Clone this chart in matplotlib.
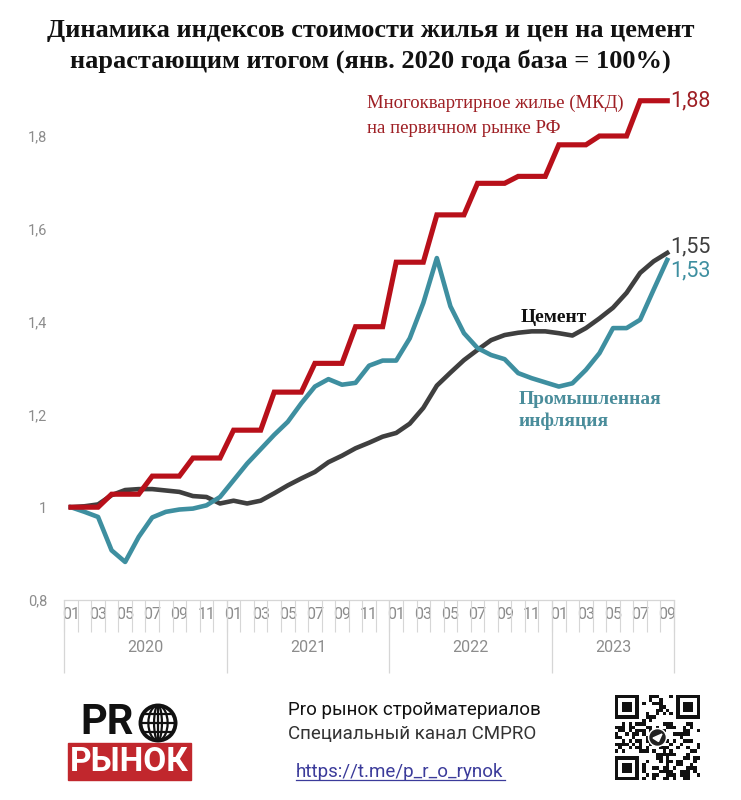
import numpy as np
import matplotlib
matplotlib.use("Agg")
import matplotlib.pyplot as plt
from matplotlib.patches import Rectangle, Circle, Ellipse, Polygon

# --- data (monthly, Jan 2020 .. Sep 2023, Jan 2020 = 1.0) ---
month_labels = ["01", "02", "03", "04", "05", "06", "07", "08", "09", "10", "11", "12"]
years = ["2020", "2021", "2022", "2023"]
n_months = 45

housing = [1.0, 1.0, 1.0, 1.028, 1.028, 1.028, 1.067, 1.067, 1.067, 1.106, 1.106, 1.106,
           1.166, 1.166, 1.166, 1.248, 1.248, 1.248, 1.31, 1.31, 1.31, 1.389, 1.389, 1.389,
           1.528, 1.528, 1.528, 1.63, 1.63, 1.63, 1.698, 1.698, 1.698, 1.713, 1.713, 1.713,
           1.781, 1.781, 1.781, 1.80, 1.80, 1.80, 1.876, 1.876, 1.876]
cement = [1.0, 1.002, 1.006, 1.026, 1.037, 1.039, 1.039, 1.036, 1.033, 1.024, 1.022, 1.008,
          1.014, 1.008, 1.014, 1.030, 1.047, 1.062, 1.076, 1.097, 1.111, 1.127, 1.139, 1.152,
          1.160, 1.180, 1.214, 1.262, 1.290, 1.317, 1.339, 1.360, 1.371, 1.376, 1.379, 1.379,
          1.375, 1.370, 1.386, 1.407, 1.430, 1.462, 1.505, 1.530, 1.548]
industrial = [1.0, 0.990, 0.979, 0.907, 0.882, 0.936, 0.978, 0.990, 0.995, 0.997, 1.004, 1.022,
              1.058, 1.094, 1.125, 1.156, 1.184, 1.224, 1.260, 1.276, 1.264, 1.268, 1.305, 1.316,
              1.316, 1.364, 1.440, 1.537, 1.433, 1.375, 1.343, 1.328, 1.319, 1.289, 1.278, 1.269,
              1.260, 1.267, 1.296, 1.332, 1.386, 1.386, 1.404, 1.469, 1.533]

yticks = [0.8, 1.0, 1.2, 1.4, 1.6, 1.8]
ytick_labels = ["0,8", "1", "1,2", "1,4", "1,6", "1,8"]

url = "https://t.me/p_r_o_rynok"

RED = "#b8101a"
RED_TXT = "#9e1f24"
GRAY = "#3f3f3f"
TEAL = "#3e8fa0"
TEAL_TXT = "#4a8d9b"
AXC = "#d6d6d6"
TICKC = "#8c8c8c"
NARROW = ["Roboto", "DejaVu Sans"]
SERIF = ["Liberation Serif", "DejaVu Serif"]

fig = plt.figure(figsize=(7.41, 8.0), dpi=100)
fig.patch.set_facecolor("white")

ax = fig.add_axes([0.0866, 0.25, 0.8230, 0.6496])
x = np.arange(n_months)
ax.plot(x, housing, color=RED, lw=3.7, solid_joinstyle="miter", zorder=3)
ax.plot(x, cement, color=GRAY, lw=3.3, zorder=2)
ax.plot(x, industrial, color=TEAL, lw=3.3, zorder=2.5)

ax.set_xlim(-0.5, n_months - 0.5)
ax.set_ylim(0.8, 1.92)

for s in ["top", "right", "left"]:
    ax.spines[s].set_visible(False)
ax.spines["bottom"].set_color(AXC)
ax.spines["bottom"].set_linewidth(0.9)

ax.set_yticks(yticks)
ax.set_yticklabels(ytick_labels, fontfamily=NARROW, fontsize=10.5, color=TICKC)
ax.tick_params(axis="y", length=0, pad=12)

major = [i for i in range(n_months) if i % 2 == 0]
ax.set_xticks(major)
ax.set_xticklabels([month_labels[i % 12] for i in major], fontfamily=NARROW,
                   fontsize=11.5, color=TICKC)
ax.set_xticks(np.arange(-0.5, n_months, 1.0), minor=True)
ax.tick_params(axis="x", which="major", length=0, pad=5)
ax.tick_params(axis="x", which="minor", length=23, width=0.8, color=AXC, direction="out")

# year groups
xt = ax.get_xaxis_transform()
bounds = [-0.5, 11.5, 23.5, 35.5, n_months - 0.5]
ax.vlines(bounds, -0.14, 0, transform=xt, color=AXC, lw=0.9, clip_on=False)
for k, yr in enumerate(years):
    ax.text((bounds[k] + bounds[k + 1]) / 2, -0.092, yr, transform=xt, ha="center",
            va="center", fontfamily=NARROW, fontsize=11.5, color=TICKC)

# series labels
ax.text(21.85, 1.871, "Многоквартирное жилье (МКД)", color=RED_TXT, fontfamily=SERIF,
        fontsize=13.5, ha="left", va="center")
ax.text(21.85, 1.817, "на первичном рынке РФ", color=RED_TXT, fontfamily=SERIF,
        fontsize=13.5, ha="left", va="center")
ax.text(35.6, 1.409, "Цемент", color="#111111", fontfamily=SERIF, fontsize=14,
        fontweight="bold", ha="center", va="center")
ax.text(33.05, 1.233, "Промышленная", color=TEAL_TXT, fontfamily=SERIF, fontsize=14,
        fontweight="bold", ha="left", va="center")
ax.text(33.05, 1.185, "инфляция", color=TEAL_TXT, fontfamily=SERIF, fontsize=14,
        fontweight="bold", ha="left", va="center")

ax.text(n_months - 0.8, housing[-1], "1,88", color=RED_TXT, fontfamily=NARROW,
        fontsize=15.5, ha="left", va="center", clip_on=False)
ax.text(n_months - 0.8, cement[-1] + 0.012, "1,55", color=GRAY, fontfamily=NARROW,
        fontsize=15.5, ha="left", va="center", clip_on=False)
ax.text(n_months - 0.8, industrial[-1] - 0.024, "1,53", color=TEAL, fontfamily=NARROW,
        fontsize=15.5, ha="left", va="center", clip_on=False)

# title
fig.text(0.5, 0.9425, "Динамика индексов стоимости жилья и цен на цемент\n"
         "нарастающим итогом (янв. 2020 года база = 100%)",
         ha="center", va="center", fontfamily=SERIF, fontweight="bold",
         fontsize=19, linespacing=1.33, color="#111111")

# footer: logo
lax = fig.add_axes([0.0, 0.0, 1.0, 0.16])
lax.set_xlim(0, 741)
lax.set_ylim(128, 0)
lax.set_aspect("equal")
lax.axis("off")
# footer coords: y_px - 672
lax.text(80, 51, "PR", fontfamily=["Roboto", "DejaVu Sans"], fontweight="bold",
         fontsize=30, ha="left", va="center", color="#111111")
gx, gy, gr = 158, 51, 17.5
lax.add_patch(Circle((gx, gy), gr, fill=False, lw=2.8, ec="#111111"))
for w in [0.45, 1.1]:
    lax.add_patch(Ellipse((gx, gy), w * gr, 2 * gr, fill=False, lw=1.6, ec="#111111"))
lax.plot([gx, gx], [gy - gr, gy + gr], color="#111111", lw=1.6)
for dy in [-9, 0, 9]:
    half = np.sqrt(gr ** 2 - dy ** 2)
    lax.plot([gx - half, gx + half], [gy + dy, gy + dy], color="#111111", lw=1.6)
lax.add_patch(Rectangle((68, 71), 123, 37, color="#c1272d"))
lax.text(129.5, 90, "РЫНОК", fontfamily=["Roboto", "DejaVu Sans"], fontweight="bold",
         fontsize=24, ha="center", va="center", color="white")

# footer: channel text
lax.text(288, 38, "Pro рынок стройматериалов", fontfamily=NARROW, fontsize=13.5,
         ha="left", va="center", color="#111111")
lax.text(288, 62, "Специальный канал CMPRO", fontfamily=NARROW, fontsize=13.5,
         ha="left", va="center", color="#333333")
lax.text(296, 100, url, fontfamily=NARROW, fontsize=13.5, ha="left", va="center",
         color="#3b3b9a")
lax.plot([296, 505], [108, 108], color="#3b3b9a", lw=0.9)

# footer: qr-like code
q0x, q0y, qs, nq = 615, 23, 85, 25
cell = qs / nq
codes = [ord(c) for c in url]
bits = np.zeros((nq, nq), dtype=bool)
for i in range(nq):
    for j in range(nq):
        v = codes[(i * 7 + j * 3) % len(codes)] * (i + 3) + codes[(j * 5 + i) % len(codes)] * (j + 1)
        bits[i, j] = (v % 7) in (0, 2, 3)
for (ci, cj) in [(0, 0), (0, nq - 7), (nq - 7, 0)]:
    for a in range(-1, 8):
        for b in range(-1, 8):
            ii, jj = ci + a, cj + b
            if 0 <= ii < nq and 0 <= jj < nq:
                ring = max(abs(a - 3), abs(b - 3))
                bits[ii, jj] = ring in (3, 1, 0) if ring <= 3 else False
for i in range(nq):
    for j in range(nq):
        if bits[i, j]:
            lax.add_patch(Rectangle((q0x + j * cell, q0y + i * cell), cell, cell,
                                    color="#111111", lw=0))
lax.add_patch(Circle((q0x + qs / 2, q0y + qs / 2), 9, color="white", zorder=3))
lax.add_patch(Circle((q0x + qs / 2, q0y + qs / 2), 7.5, color="#222222", zorder=4))
cx, cy = q0x + qs / 2, q0y + qs / 2
lax.add_patch(Polygon([[cx - 4.5, cy + 0.5], [cx + 4.5, cy - 3.5], [cx + 1, cy + 4]],
                      color="white", zorder=5))

fig.savefig("out.png", dpi=100, facecolor="white")
